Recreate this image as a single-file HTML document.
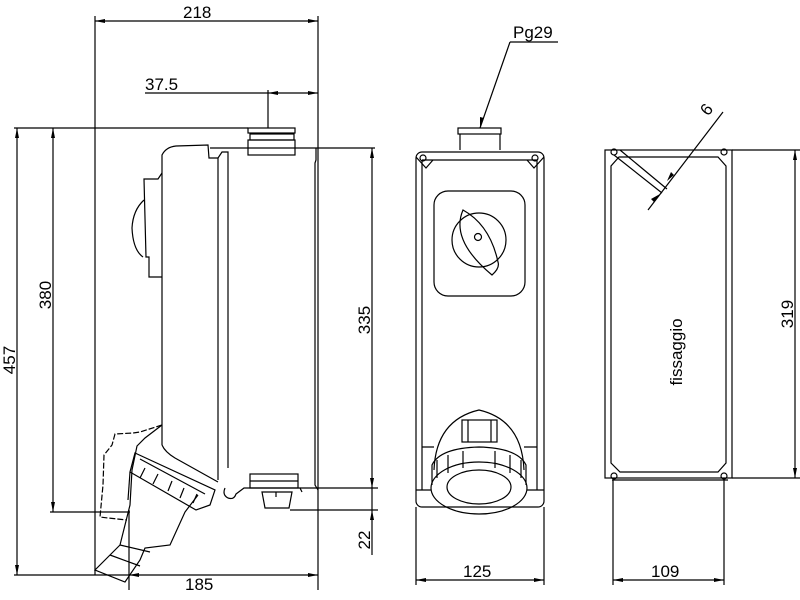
<!DOCTYPE html>
<html><head><meta charset="utf-8"><style>
html,body{margin:0;padding:0;background:#fff}
svg{display:block}
text{font-family:"Liberation Sans",sans-serif;fill:#000}
</style></head><body>
<svg width="800" height="600" viewBox="0 0 800 600" xmlns="http://www.w3.org/2000/svg">
<g fill="none" stroke="#000" stroke-width="1.2">
<line x1="95" y1="21" x2="318" y2="21"/>
<line x1="95" y1="16" x2="95" y2="575"/>
<line x1="318" y1="16" x2="318" y2="590"/>
<line x1="145" y1="93" x2="318" y2="93"/>
<line x1="268" y1="90" x2="268" y2="128"/>
<line x1="14" y1="128" x2="248" y2="128"/>
<line x1="210" y1="148" x2="375" y2="148"/>
<line x1="17" y1="128" x2="17" y2="575"/>
<line x1="53" y1="128" x2="53" y2="512"/>
<line x1="14" y1="575" x2="130" y2="575"/>
<line x1="50" y1="512" x2="130" y2="512"/>
<line x1="372" y1="148" x2="372" y2="555"/>
<line x1="300" y1="488" x2="378" y2="488"/>
<line x1="290" y1="510" x2="378" y2="510"/>
<line x1="129" y1="575" x2="318" y2="575"/>
<line x1="129" y1="510" x2="129" y2="590"/>

<rect x="248" y="128" width="47" height="5"/>
<rect x="250" y="134" width="44" height="6"/>
<rect x="248" y="140" width="47" height="15"/>
<path d="M162 445 V155 Q166 147 176 146 L208 145 L209 158 L218 158 L222 152 L228 152 V468"/>
<line x1="218" y1="158" x2="218" y2="480"/>
<path d="M316 148 V160 L315 163 V485 L318 490"/>
<path d="M162 173 L158 179 H144 L146 257 H149 V277 H162"/>
<path d="M144 200 Q133 210 132 228 Q133 250 143 257"/>
<path d="M162 445 Q165 452 175 458 L218 482"/>
<rect x="250" y="474" width="48" height="14"/>
<line x1="250" y1="481" x2="298" y2="481"/>
<path d="M225 488 Q222 495 228 498 Q234 500 236 494 L244 488 L300 488 L302 492"/>
<path d="M262 492 H292 L289 508 H265 Z"/>
<line x1="276" y1="492" x2="276" y2="497"/>
<path d="M162 425 L140 432 L133 433 L115 434 L112 445 L104 455 L103 485 L100 517 L108 518 L127 520" stroke-dasharray="6 2"/>
<path d="M162 425 L145 438 L137 446 L132 470 L130 505 L120 545 L110 555 L95 570 L125 582 L140 560 L145 548 L170 545 L185 512 L198 495"/>
<path d="M135 453 L215 490 L210 505 L196 510 L130 472 Z"/>
<path d="M140 459 L205 494"/>
<path d="M130 472 L128 500"/>
<path d="M145 468 L140 478 M158 474 L153 484 M172 481 L168 491 M184 488 L180 498 M197 494 L193 503"/>
<path d="M120 545 L150 552 M110 555 L140 566"/>

<rect x="458" y="128" width="43" height="6"/>
<path d="M460 134 V150 M500 134 V150"/>
<rect x="416" y="152" width="128" height="355" rx="6"/>
<line x1="422" y1="160" x2="422" y2="490"/>
<line x1="537" y1="160" x2="537" y2="490"/>
<line x1="422" y1="160" x2="537" y2="160"/>
<path d="M416 157 L426 168 L433 160 M544 157 L534 168 L527 160"/>
<circle cx="423" cy="158" r="3"/><circle cx="535" cy="158" r="3"/>
<rect x="434" y="191" width="91" height="105" rx="14"/>
<circle cx="479" cy="240" r="27"/>
<path d="M463 210 Q450 240 492 275 Q500 268 498 262 Q490 225 463 210 Z"/>
<circle cx="478" cy="237" r="3.5"/>
<path d="M434 470 Q436 420 479 410 Q522 420 524 470"/>
<rect x="462" y="420" width="35" height="22"/>
<line x1="468" y1="420" x2="468" y2="442"/><line x1="491" y1="420" x2="491" y2="442"/>
<ellipse cx="479" cy="488" rx="48" ry="26"/>
<ellipse cx="479" cy="487" rx="32" ry="17"/>
<path d="M432 485 V465 Q440 448 479 447 Q518 448 526 465 V485"/>
<path d="M437 460 V478 M448 455 V473 M463 451 V468 M495 451 V468 M510 455 V473 M521 460 V478"/>
<path d="M422 447 H434 M537 447 H524 M416 490 H431 M544 490 H527"/>
<line x1="416" y1="507" x2="416" y2="585"/>
<line x1="544" y1="507" x2="544" y2="585"/>
<line x1="416" y1="580" x2="544" y2="580"/>
<line x1="510" y1="42" x2="558" y2="42"/>
<line x1="510" y1="42" x2="480" y2="128"/>

<rect x="605" y="150" width="127" height="328"/>
<path d="M619 157 H718 L726 166 V463 L718 472 H620 L611 463 V166 Z"/>
<circle cx="614" cy="152" r="3"/><circle cx="724" cy="152" r="3"/>
<circle cx="614" cy="476" r="3"/><circle cx="724" cy="476" r="3"/>
<line x1="612" y1="480" x2="728" y2="480"/>
<line x1="613" y1="480" x2="613" y2="585"/>
<line x1="724" y1="480" x2="724" y2="585"/>
<line x1="613" y1="580" x2="724" y2="580"/>
<line x1="732" y1="150" x2="800" y2="150"/>
<line x1="732" y1="478" x2="800" y2="478"/>
<line x1="795" y1="150" x2="795" y2="478"/>
<path d="M614 155 L662 193 M620 150 L667 189"/>
<line x1="723" y1="112" x2="648" y2="210"/>
</g>
<g fill="#000">
<path d="M95 21 l10 -2 v4z M318 21 l-10 -2 v4z"/>
<path d="M268 93 l10 -2 v4z M318 93 l-10 -2 v4z"/>
<path d="M17 128 l-2 10 h4z M53 128 l-2 10 h4z M17 575 l-2 -10 h4z M53 512 l-2 -10 h4z"/>
<path d="M372 148 l-2 10 h4z M372 488 l-2 -10 h4z M372 510 l-2 10 h4z"/>
<path d="M129 575 l10 -2 v4z M318 575 l-10 -2 v4z"/>
<path d="M416 580 l10 -2 v4z M544 580 l-10 -2 v4z"/>
<path d="M613 580 l10 -2 v4z M724 580 l-10 -2 v4z"/>
<path d="M795 150 l-2 10 h4z M795 478 l-2 -10 h4z"/>
<path d="M480 128 l0 -11 l4 1z"/>
<path d="M667 181 l4 -9 l3 3z M660 194 l-9 5 l3 3z"/>
</g>
<g font-size="17">
<text x="183" y="18">218</text>
<text x="145" y="90">37.5</text>
<text x="185" y="590">185</text>
<text x="463" y="577">125</text>
<text x="651" y="577">109</text>
<text x="513" y="38">Pg29</text>
<text transform="translate(15,360) rotate(-90)" text-anchor="middle">457</text>
<text transform="translate(51,295) rotate(-90)" text-anchor="middle">380</text>
<text transform="translate(370,320) rotate(-90)" text-anchor="middle">335</text>
<text transform="translate(370,540) rotate(-90)" text-anchor="middle">22</text>
<text transform="translate(793,314) rotate(-90)" text-anchor="middle">319</text>
<text transform="translate(711,113) rotate(-52)" text-anchor="middle">6</text>
<text transform="translate(682,352) rotate(-90)" text-anchor="middle" font-size="17">fissaggio</text>
</g>
</svg>
</body></html>
